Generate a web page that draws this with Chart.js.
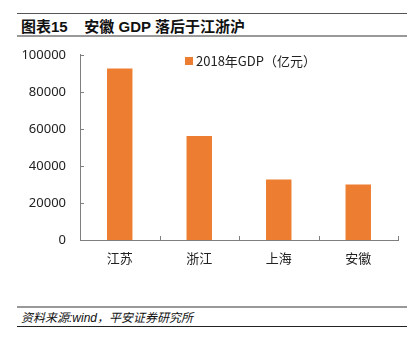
<!DOCTYPE html>
<html>
<head>
<meta charset="utf-8">
<script src="https://cdn.jsdelivr.net/npm/chart.js@4"></script>
<style>
  html, body { margin: 0; padding: 0; background: #fff; }
  body { width: 418px; height: 342px; position: relative; overflow: hidden;
         font-family: "Noto Sans", "Noto Sans CJK SC", sans-serif; }
  .rule { position: absolute; left: 17px; width: 390px; }
  #title { position: absolute; left: 21px; top: 17px; font-size: 15px; font-weight: bold;
           color: #111; font-family: "Liberation Sans", "Noto Sans CJK SC", sans-serif; line-height: 20px; }
  #legend { position: absolute; left: 185px; top: 52px; font-size: 13px; color: #222;
            font-family: "Noto Sans CJK SC", sans-serif; line-height: 18px; }
  #legend span.box { display: inline-block; width: 8px; height: 8px; background: #ED7D31;
                     margin-right: 3px; vertical-align: 1px; }
  #source { position: absolute; left: 21px; top: 310px; font-size: 12px; font-style: italic;
            color: #111; font-family: "Liberation Sans", "Noto Sans CJK SC", sans-serif; line-height: 16px; }
  #wrap { position: absolute; left: 0; top: 33px; width: 418px; height: 247px; }
</style>
</head>
<body>
<div class="rule" style="top:13px;height:1px;background:#555;"></div>
<div id="title">图表15&nbsp;&nbsp;&nbsp;&nbsp;安徽 GDP 落后于江浙沪</div>
<div class="rule" style="top:35px;height:2px;background:#999;"></div>

<div id="wrap"><canvas id="gdpChart" width="418" height="247"></canvas></div>
<div id="legend"></div>

<div class="rule" style="top:306px;height:2px;background:#999;"></div>
<div id="source">资料来源:wind，平安证券研究所</div>
<div class="rule" style="top:326px;height:1px;background:#222;"></div>

<script>
// 2018 GDP by province (亿元)
const provinces = ['江苏', '浙江', '上海', '安徽'];
const gdp2018 = [92595, 56197, 32680, 30007];
const yTicks = [0, 20000, 40000, 60000, 80000, 100000];
const seriesLabel = '2018年GDP（亿元）';
const barColor = '#ED7D31';
const axisColor = '#7f7f7f';

// short tick marks pointing into the plot, like the original Excel chart
const innerTicks = {
  id: 'innerTicks',
  afterDraw(chart) {
    const { ctx, scales: { x, y }, chartArea } = chart;
    ctx.save();
    ctx.strokeStyle = axisColor;
    ctx.lineWidth = 1;
    ctx.beginPath();
    y.ticks.forEach((t, i) => {
      const py = Math.round(y.getPixelForTick(i)) + 0.5;
      ctx.moveTo(chartArea.left, py);
      ctx.lineTo(chartArea.left + 4, py);
    });
    for (let i = 0; i <= provinces.length; i++) {
      const px = Math.round(x.getPixelForValue(i - 0.5)) + 0.5;
      ctx.moveTo(px, chartArea.bottom);
      ctx.lineTo(px, chartArea.bottom - 4);
    }
    ctx.stroke();
    ctx.restore();
  }
};

new Chart(document.getElementById('gdpChart'), {
  type: 'bar',
  data: {
    labels: provinces,
    datasets: [{
      label: seriesLabel,
      data: gdp2018,
      backgroundColor: barColor,
      borderWidth: 0,
      categoryPercentage: 1,
      barPercentage: 0.32
    }]
  },
  options: {
    responsive: false,
    animation: false,
    layout: { padding: { top: 8, right: 20, left: 0, bottom: 0 } },
    plugins: {
      legend: { display: false },
      tooltip: { enabled: false }
    },
    scales: {
      x: {
        grid: { display: false, drawTicks: false },
        border: { color: axisColor, width: 1 },
        ticks: {
          color: '#222',
          padding: 10,
          font: { family: '"Noto Sans CJK SC", serif', size: 13 }
        },
        afterFit(scale) { scale.height = 40; }
      },
      y: {
        min: 0,
        max: 100000,
        afterBuildTicks(scale) { scale.ticks = yTicks.map(v => ({ value: v })); },
        grid: { display: false, drawTicks: false },
        border: { color: axisColor, width: 1 },
        ticks: {
          color: '#222',
          padding: 14,
          callback: v => String(v),
          font: { family: '"Noto Sans", sans-serif', size: 13 }
        },
        afterFit(scale) { scale.width = 80; }
      }
    }
  },
  plugins: [innerTicks]
});

document.getElementById('legend').innerHTML =
  '<span class="box"></span>' + seriesLabel;
</script>
</body>
</html>
